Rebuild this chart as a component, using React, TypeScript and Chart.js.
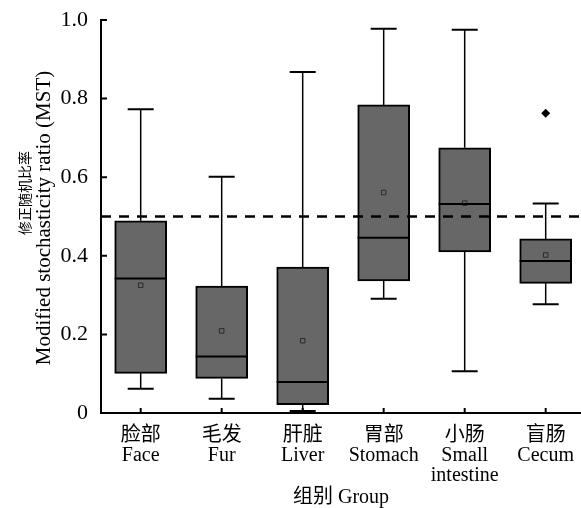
import { useEffect, useRef } from 'react';
import { Chart, registerables } from 'chart.js';
Chart.register(...registerables);

const FONT = "'Liberation Serif', 'Noto Sans CJK SC', serif";

const groupsZh = ['脸部', '毛发', '肝脏', '胃部', '小肠', '盲肠'];
const groupsEn = [['Face'], ['Fur'], ['Liver'], ['Stomach'], ['Small', 'intestine'], ['Cecum']];
const whiskerLow = [0.062, 0.036, 0.005, 0.291, 0.106, 0.277];
const q1 = [0.101, 0.088, 0.021, 0.336, 0.41, 0.33];
const median = [0.342, 0.144, 0.079, 0.446, 0.532, 0.387];
const q3 = [0.489, 0.323, 0.371, 0.784, 0.675, 0.443];
const whiskerHigh = [0.773, 0.601, 0.868, 0.978, 0.975, 0.533];
const mean = [0.325, 0.209, 0.184, 0.561, 0.534, 0.402];
const outlierGroup = [5];
const outlierValue = [0.763];
const threshold = 0.5;
const yTicks = [0, 0.2, 0.4, 0.6, 0.8, 1.0];
const yTitleZh = '修正随机比率';
const yTitleEn = 'Modified stochasticity ratio (MST)';
const xTitle = '组别 Group';

export default function App() {
  const ref = useRef<HTMLCanvasElement>(null);
  useEffect(() => {
    const canvas = ref.current;
    if (!canvas) return;

    const extras = {
      id: 'boxExtras',
      afterDatasetsDraw(chart: any) {
        const { ctx, chartArea, scales } = chart;
        const x = scales.x;
        const y = scales.y;
        ctx.save();
        ctx.strokeStyle = '#000';
        groupsZh.forEach((_, i) => {
          const cx = x.getPixelForValue(i);
          ctx.lineWidth = 1.5;
          ctx.beginPath();
          ctx.moveTo(cx, y.getPixelForValue(q3[i]));
          ctx.lineTo(cx, y.getPixelForValue(whiskerHigh[i]));
          ctx.moveTo(cx, y.getPixelForValue(q1[i]));
          ctx.lineTo(cx, y.getPixelForValue(whiskerLow[i]));
          ctx.stroke();
          ctx.lineWidth = 2;
          ctx.beginPath();
          const yh = y.getPixelForValue(whiskerHigh[i]);
          const yl = y.getPixelForValue(whiskerLow[i]);
          ctx.moveTo(cx - 13, yh);
          ctx.lineTo(cx + 13, yh);
          ctx.moveTo(cx - 13, yl);
          ctx.lineTo(cx + 13, yl);
          const ym = y.getPixelForValue(median[i]);
          ctx.moveTo(cx - 26, ym);
          ctx.lineTo(cx + 26, ym);
          ctx.stroke();
        });
        // threshold dashed line
        const yt = y.getPixelForValue(threshold);
        ctx.setLineDash([10, 8]);
        ctx.lineWidth = 2.5;
        ctx.beginPath();
        ctx.moveTo(chartArea.left, yt);
        ctx.lineTo(chartArea.right, yt);
        ctx.stroke();
        ctx.restore();
      },
      afterDraw(chart: any) {
        const { ctx, chartArea, scales } = chart;
        const x = scales.x;
        const y = scales.y;
        ctx.save();
        ctx.strokeStyle = '#000';
        ctx.lineWidth = 2;
        ctx.beginPath();
        yTicks.forEach((v) => {
          const py = y.getPixelForValue(v);
          ctx.moveTo(chartArea.left, py);
          ctx.lineTo(chartArea.left + 6, py);
        });
        groupsZh.forEach((_, i) => {
          const px = x.getPixelForValue(i);
          ctx.moveTo(px, chartArea.bottom);
          ctx.lineTo(px, chartArea.bottom - 5);
        });
        ctx.stroke();
        // y axis title
        ctx.fillStyle = '#000';
        ctx.save();
        ctx.translate(50, 218);
        ctx.rotate(-Math.PI / 2);
        ctx.textAlign = 'center';
        ctx.textBaseline = 'alphabetic';
        ctx.font = `21px ${FONT}`;
        ctx.fillText(yTitleEn, 0, 0);
        ctx.restore();
        ctx.save();
        ctx.translate(26.5, 193);
        ctx.rotate(-Math.PI / 2);
        ctx.textAlign = 'center';
        ctx.textBaseline = 'middle';
        ctx.font = `14px ${FONT}`;
        ctx.fillText(yTitleZh, 0, 0);
        ctx.restore();
        ctx.restore();
      },
    };

    const chart = new Chart(canvas, {
      type: 'bar',
      data: {
        datasets: [
          {
            type: 'scatter',
            order: 0,
            data: mean.map((m, i) => ({ x: i, y: m })),
            pointStyle: 'rect',
            radius: 3.2,
            borderWidth: 1,
            borderColor: '#2a2a2a',
            backgroundColor: 'rgba(0,0,0,0)',
          } as any,
          {
            type: 'scatter',
            order: 0,
            data: outlierGroup.map((g, i) => ({ x: g, y: outlierValue[i] })),
            pointStyle: 'rectRot',
            radius: 4.5,
            borderWidth: 0,
            backgroundColor: '#000',
          } as any,
          {
            type: 'bar',
            order: 1,
            data: q1.map((lo, i) => ({ x: i, y: [lo, q3[i]] })) as any,
            backgroundColor: '#676767',
            borderColor: '#000',
            borderWidth: 2,
            borderSkipped: false,
            barThickness: 52,
          } as any,
        ],
      },
      options: {
        responsive: false,
        animation: false,
        layout: { autoPadding: false, padding: { top: 20, left: 0, right: 0, bottom: 0 } },
        plugins: { legend: { display: false }, tooltip: { enabled: false } },
        scales: {
          x: {
            type: 'linear',
            offset: false,
            min: -0.49,
            max: 5.436,
            grid: { display: false, drawTicks: false, offset: false },
            border: { display: true, color: '#000', width: 2 },
            afterBuildTicks: (scale: any) => {
              scale.ticks = groupsZh.map((_, i) => ({ value: i }));
            },
            afterFit: (scale: any) => {
              scale.height = 95;
              scale.paddingLeft = 0;
              scale.paddingRight = 0;
            },
            ticks: {
              autoSkip: false,
              maxRotation: 0,
              padding: 13,
              color: '#000',
              font: { family: FONT, size: 20, lineHeight: 1 },
              callback: (v: any) => {
                const i = Math.round(Number(v));
                return [groupsZh[i], ...groupsEn[i]];
              },
            },
            title: {
              display: true,
              text: xTitle,
              color: '#000',
              font: { family: FONT, size: 20, lineHeight: 1 },
              padding: { top: 0, bottom: 0 },
            },
          },
          y: {
            type: 'linear',
            min: 0,
            max: 1,
            grid: { display: false, drawTicks: false },
            border: { display: true, color: '#000', width: 2 },
            afterBuildTicks: (scale: any) => {
              scale.ticks = yTicks.map((v) => ({ value: v }));
            },
            afterFit: (scale: any) => {
              scale.width = 101;
              scale.paddingTop = 0;
              scale.paddingBottom = 0;
            },
            ticks: {
              padding: 13,
              color: '#000',
              font: { family: FONT, size: 22 },
              callback: (v: any) => (Number(v) === 0 ? '0' : Number(v).toFixed(1)),
            },
          },
        },
      },
      plugins: [extras],
    });
    return () => chart.destroy();
  }, []);

  return (
    <div style={{ position: 'fixed', left: 0, top: 0, width: 581, height: 508, background: '#fff' }}>
      <canvas ref={ref} width={581} height={508} />
    </div>
  );
}
